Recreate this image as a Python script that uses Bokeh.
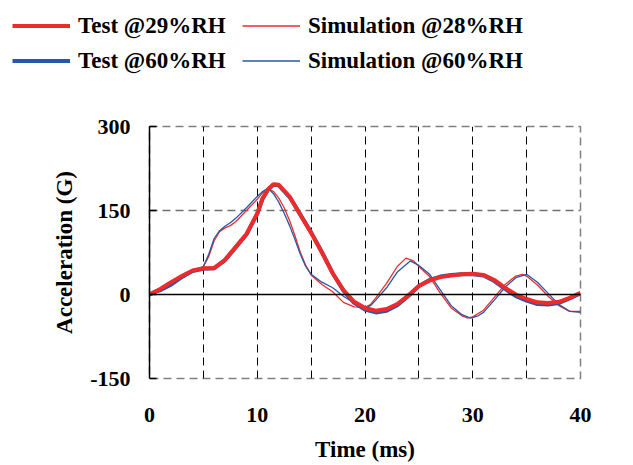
from bokeh.plotting import figure
from bokeh.models import Range1d, FixedTicker, Span, Legend, LegendItem
from bokeh.layouts import column
from bokeh.embed import file_html
from bokeh.resources import INLINE

# ---- data ----
t_test = [0, 1, 2, 3, 4, 5, 6, 7, 8, 9, 10, 10.5, 11, 11.5, 12, 13, 14, 15, 16, 17, 18, 19, 20,
          21, 22, 23, 24, 25, 26, 27, 28, 29, 30, 31, 32, 33, 34, 35, 36, 37, 38, 39, 40]
g_test29 = [0, 10, 22, 33, 43, 47, 47, 62, 85, 108, 145, 172, 188, 197, 196, 175, 142, 110, 75, 38, 8, -13, -24,
            -29, -26, -17, -2, 15, 25, 31, 34, 36, 37, 35, 26, 12, 0, -8, -14, -15, -13, -6, 3]
g_test60 = [0, 9, 20, 32, 42, 46, 47, 61, 84, 107, 144, 171, 187, 196, 195, 174, 143, 111, 76, 38, 7, -15, -27,
            -32, -29, -19, -3, 15, 26, 32, 35, 36, 36, 34, 24, 10, -3, -11, -17, -18, -15, -7, 2]

t_sim28 = [0, 1, 2, 3, 4, 5, 5.5, 6, 6.5, 7, 7.5, 8, 9, 10, 10.5, 11, 11.5, 12, 12.5, 13, 13.5, 14, 14.5, 15,
           16, 17, 18, 19, 20, 20.5, 21, 22, 23, 23.8, 24.5, 25, 26, 27, 28, 29, 29.5, 30, 31, 32, 33, 34,
           34.6, 35, 36, 37, 38, 39, 40]
g_sim28 = [0, 6, 16, 30, 40, 50, 68, 96, 112, 119, 123, 130, 150, 170, 182, 188, 184, 172, 155, 132, 105, 75, 52, 35,
           18, 5, -14, -22, -23, -18, -6, 20, 50, 65, 60, 50, 32, 2, -24, -38, -42, -40, -28, -5, 18, 33,
           36, 33, 17, -3, -20, -30, -30]

t_sim60 = [0, 1, 2, 3, 4, 5, 5.5, 6, 6.5, 7, 7.5, 8, 9, 10, 10.5, 11, 11.5, 12, 12.5, 13, 13.5, 14, 14.5, 15,
           16, 17, 18, 19, 20, 20.5, 21, 22, 23, 24.2, 25, 26, 27, 28, 29, 29.8, 30.5, 31, 32, 33, 34,
           35, 36, 37, 38, 39, 40]
g_sim60 = [0, 5, 15, 28, 40, 50, 72, 100, 114, 122, 128, 136, 155, 175, 184, 190, 180, 165, 145, 123, 98, 72, 50, 36,
           22, 12, -3, -15, -24, -20, -10, 12, 40, 60, 52, 36, 8, -20, -36, -42, -38, -32, -10, 13, 30,
           36, 22, 2, -18, -30, -32]

x_ticks = [0, 10, 20, 30, 40]
y_ticks = [-150, 0, 150, 300]
x_grid = [5, 10, 15, 20, 25, 30, 35]
y_grid = [150]

labels = ["Test @29%RH", "Simulation @28%RH", "Test @60%RH", "Simulation @60%RH"]

RED = "#EE2B2B"
BLUE = "#2A56A6"
FONT = "Liberation Serif"

LEG_H = 90

# ---- main chart ----
p = figure(width=633, height=465 - LEG_H, output_backend="svg", toolbar_location=None,
           x_range=Range1d(0, 40), y_range=Range1d(-150, 300))
p.frame_align = False
p.min_border_left = 149
p.min_border_right = 53
p.min_border_top = 126 - LEG_H
p.min_border_bottom = 87
p.background_fill_color = "white"
p.border_fill_color = "white"
p.outline_line_color = "#808080"
p.outline_line_dash = "8 5"
p.outline_line_width = 1.5

p.xgrid.ticker = FixedTicker(ticks=x_grid)
p.xgrid.grid_line_color = "black"
p.xgrid.grid_line_dash = "8 5"
p.xgrid.grid_line_width = 1
p.ygrid.ticker = FixedTicker(ticks=y_grid)
p.ygrid.grid_line_color = "#707070"
p.ygrid.grid_line_dash = "8 5"
p.ygrid.grid_line_width = 1.5

p.add_layout(Span(location=0, dimension="width", line_color="black", line_width=1.5))

for ax in (p.xaxis[0], p.yaxis[0]):
    ax.minor_tick_line_color = None
    ax.major_tick_in = 0
    ax.major_tick_out = 0
    ax.minor_tick_in = 0
    ax.minor_tick_out = 0
    ax.major_label_text_font = FONT
    ax.major_label_text_font_style = "bold"
    ax.major_label_text_font_size = "22px"
    ax.major_label_text_color = "black"
    ax.axis_label_text_font = FONT
    ax.axis_label_text_font_style = "bold"
    ax.axis_label_text_font_size = "23px"
    ax.axis_label_text_color = "black"

p.xaxis.major_tick_line_color = None
p.yaxis.major_tick_line_color = "black"
p.yaxis.major_tick_line_width = 1.5
p.yaxis.major_tick_in = 7

p.xaxis.ticker = FixedTicker(ticks=x_ticks)
p.yaxis.ticker = FixedTicker(ticks=y_ticks)
p.yaxis.major_label_overrides = {-150: "-150"}
p.xaxis.axis_line_color = None
p.yaxis.axis_line_color = "black"
p.yaxis.axis_line_width = 1.5
p.xaxis.major_label_standoff = 29
p.xaxis.axis_label_standoff = 12
p.yaxis.major_label_standoff = 19
p.yaxis.axis_label_standoff = 10
p.xaxis.axis_label = "Time (ms)"
p.yaxis.axis_label = "Acceleration (G)"

p.line(t_sim28, g_sim28, line_color=RED, line_width=1.3)
p.line(t_sim60, g_sim60, line_color=BLUE, line_width=1.3)
p.line(t_test, g_test60, line_color=BLUE, line_width=4)
p.line(t_test, g_test29, line_color=RED, line_width=4)

# ---- legend strip ----
lg = figure(width=633, height=LEG_H, output_backend="svg", toolbar_location=None,
            x_range=Range1d(0, 1), y_range=Range1d(0, 1), min_border=0)
lg.frame_align = False
lg.axis.visible = False
lg.grid.visible = False
lg.outline_line_color = None
styles = [(RED, 4), (RED, 1.3), (BLUE, 4), (BLUE, 1.3)]
nan = float("nan")
items = []
for lab, (c, w) in zip(labels, styles):
    r = lg.line([nan], [nan], line_color=c, line_width=w)
    items.append(LegendItem(label=lab, renderers=[r]))

legend = Legend(items=items, location=(12, 16), orientation="horizontal", ncols=2,
                glyph_width=58, glyph_height=27, label_height=27, label_width=156,
                label_standoff=8, spacing=8,
                padding=0, margin=0, border_line_color=None, background_fill_alpha=0,
                label_text_font=FONT, label_text_font_style="bold",
                label_text_font_size="23px", label_text_color="black")
lg.add_layout(legend)

open("out.html", "w").write(file_html(column(lg, p, spacing=0), INLINE))
